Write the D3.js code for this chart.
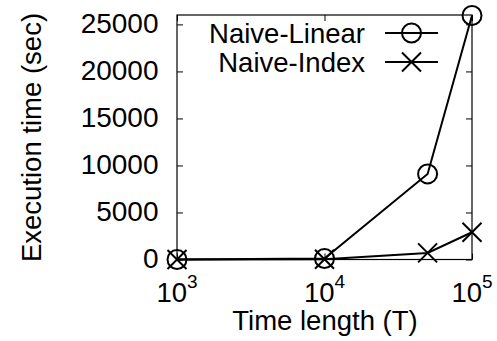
<!DOCTYPE html>
<html><head><meta charset="utf-8">
<script src="https://cdn.jsdelivr.net/npm/d3@7"></script>
<style>
body{margin:0;background:#fff;}
text{font-family:"Liberation Sans",Arial,Helvetica,sans-serif;fill:#000;}
</style></head>
<body>
<svg id="chart" width="497" height="341"></svg>
<script>
const timeLengths = [1000, 10000, 50000, 100000];
const naiveLinear = [5, 100, 9100, 25950];
const naiveIndex = [2, 20, 700, 2900];
const yTicks = [0, 5000, 10000, 15000, 20000, 25000];
const xTicks = [1000, 10000, 100000];
const xTickExps = ["3", "4", "5"];
const seriesNames = ["Naive-Linear", "Naive-Index"];

const svg = d3.select("#chart");
const L = 177, R = 472, T = 15, B = 259.5;
const x = d3.scaleLog().domain([1000, 100000]).range([L, R]);
const y = d3.scaleLinear().domain([0, 26000]).range([B, T]);
const FS = 27.5;

// frame
svg.append("rect").attr("x", L).attr("y", T).attr("width", R - L).attr("height", B - T)
  .attr("fill", "none").attr("stroke", "#000").attr("stroke-width", 1.2);

// y ticks (inward, both sides)
const yAxisL = d3.axisLeft(y).tickValues(yTicks).tickSize(-6).tickPadding(18.5).tickFormat(d3.format("d"));
const gy = svg.append("g").attr("transform", `translate(${L},0)`).call(yAxisL);
gy.select(".domain").remove();
gy.selectAll("text").attr("font-size", 28).attr("font-family", "Liberation Sans, Arial, sans-serif").attr("fill", "#000").attr("dy", "0.28em");
gy.selectAll("line").attr("stroke", "#000");
const gyR = svg.append("g").attr("transform", `translate(${R},0)`).call(d3.axisRight(y).tickValues(yTicks).tickSize(-6).tickFormat(""));
gyR.select(".domain").remove();
gyR.selectAll("line").attr("stroke", "#000");

// x ticks (inward, bottom and top)
const gx = svg.append("g").attr("transform", `translate(0,${B})`).call(d3.axisBottom(x).tickValues(xTicks).tickSize(-6).tickFormat(""));
gx.select(".domain").remove();
gx.selectAll("line").attr("stroke", "#000");
const gxT = svg.append("g").attr("transform", `translate(0,${T})`).call(d3.axisTop(x).tickValues(xTicks).tickSize(-6).tickFormat(""));
gxT.select(".domain").remove();
gxT.selectAll("line").attr("stroke", "#000");

// x tick labels with superscripts
xTicks.forEach((v, i) => {
  const t = svg.append("text").attr("x", x(v)).attr("y", 302).attr("text-anchor", "middle").attr("font-size", FS);
  t.append("tspan").text("10");
  t.append("tspan").attr("font-size", 19).attr("dy", -14).text(xTickExps[i]);
});

// axis titles
svg.append("text").attr("x", 325).attr("y", 330).attr("text-anchor", "middle").attr("font-size", FS).text("Time length (T)");
svg.append("text").attr("transform", "translate(41,137.5) rotate(-90)").attr("text-anchor", "middle").attr("font-size", FS).text("Execution time (sec)");

// lines
const line = d3.line().x((d, i) => x(timeLengths[i])).y(d => y(d));
svg.append("path").datum(naiveLinear).attr("d", line).attr("fill", "none").attr("stroke", "#000").attr("stroke-width", 2);
svg.append("path").datum(naiveIndex).attr("d", line).attr("fill", "none").attr("stroke", "#000").attr("stroke-width", 2);

function circle(cx, cy) {
  svg.append("circle").attr("cx", cx).attr("cy", cy).attr("r", 9.5).attr("fill", "none").attr("stroke", "#000").attr("stroke-width", 2);
}
function cross(cx, cy) {
  const s = 9.5;
  svg.append("path").attr("d", `M${cx - s},${cy - s}L${cx + s},${cy + s}M${cx - s},${cy + s}L${cx + s},${cy - s}`)
    .attr("stroke", "#000").attr("stroke-width", 2).attr("fill", "none");
}
naiveLinear.forEach((d, i) => circle(x(timeLengths[i]), y(d)));
naiveIndex.forEach((d, i) => cross(x(timeLengths[i]), y(d)));

// legend
const legY = [33, 62];
seriesNames.forEach((n, i) => {
  svg.append("text").attr("x", 365).attr("y", legY[i]).attr("dy", "0.36em").attr("text-anchor", "end").attr("font-size", FS).text(n);
  svg.append("line").attr("x1", 385).attr("x2", 438).attr("y1", legY[i]).attr("y2", legY[i]).attr("stroke", "#000").attr("stroke-width", 2);
  if (i === 0) circle(411.5, legY[i]); else cross(411.5, legY[i]);
});
</script>
</body></html>
